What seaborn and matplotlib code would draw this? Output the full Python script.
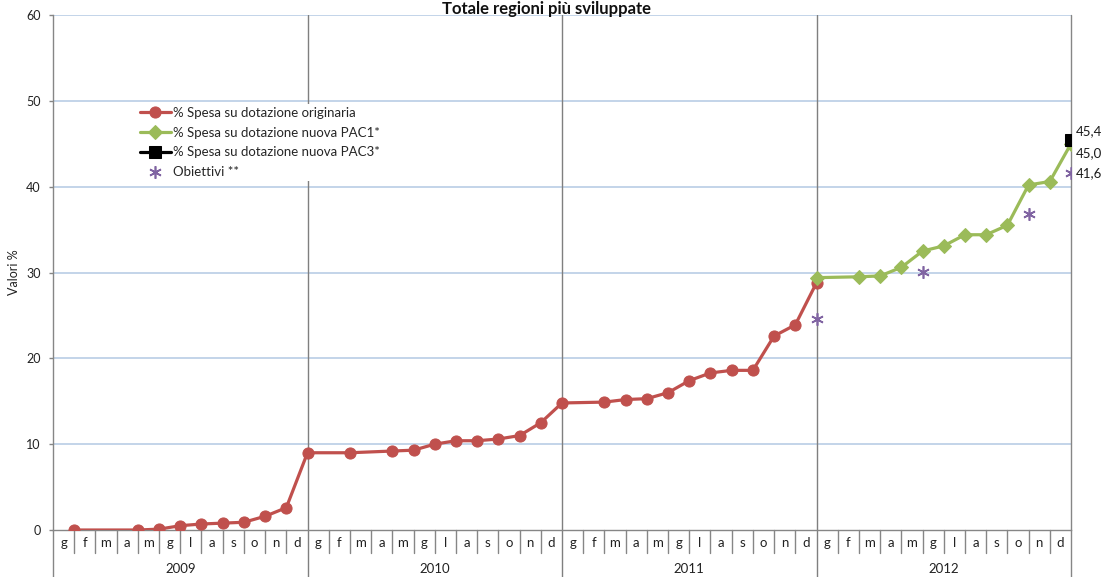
import numpy as np
import pandas as pd
import seaborn as sns
import matplotlib.pyplot as plt
from matplotlib.lines import Line2D

# ---------------- data ----------------
years = ["2009", "2010", "2011", "2012"]
months = ["g", "f", "m", "a", "m", "g", "l", "a", "s", "o", "n", "d"]

spesa_originaria = [0.0, None, None, 0.0, 0.1, 0.5, 0.7, 0.8, 0.9, 1.6, 2.6, 9.0,
                    None, 9.0, None, 9.2, 9.3, 10.0, 10.4, 10.4, 10.6, 11.0, 12.5, 14.8,
                    None, 14.9, 15.2, 15.3, 16.0, 17.4, 18.3, 18.6, 18.6, 22.6, 23.9, 28.8,
                    None, None, None, None, None, None, None, None, None, None, None, None]
spesa_pac1 = [None] * 35 + [29.4,
              None, 29.5, 29.6, 30.6, 32.5, 33.1, 34.4, 34.4, 35.5, 40.2, 40.6, 45.0]
spesa_pac3 = [None] * 47 + [45.4]
obiettivi = [None] * 35 + [24.6,
             None, None, None, None, 30.1, None, None, None, None, 36.8, None, 41.6]

labels_pts = [("45,4", 45.4, 9), ("45,0", 45.0, -9), ("41,6", 41.6, 0)]

df = pd.DataFrame({
    "pos": np.arange(1, 49),
    "orig": pd.array(spesa_originaria, dtype="Float64"),
    "pac1": pd.array(spesa_pac1, dtype="Float64"),
    "pac3": pd.array(spesa_pac3, dtype="Float64"),
    "obj": pd.array(obiettivi, dtype="Float64"),
}).astype({"orig": float, "pac1": float, "pac3": float, "obj": float})

# ---------------- style ----------------
sns.set_theme(style="white")
plt.rcParams["font.family"] = ["Lato", "DejaVu Sans"]

W, H = 1104, 577
fig = plt.figure(figsize=(W / 100, H / 100), dpi=100)
ax = fig.add_axes([53 / W, 47 / H, 1018 / W, 515 / H])

RED = "#C0504D"
GREEN = "#9BBB59"
PURPLE = "#8064A2"
GRID = "#B9CDE5"
AXC = "#868686"

for v in range(10, 61, 10):
    ax.axhline(v, color=GRID, lw=1.2, zorder=0)
for k in (12, 24, 36):
    ax.axvline(k, color="#7F7F7F", lw=1, zorder=1)

sns.lineplot(data=df.dropna(subset=["orig"]), x="pos", y="orig", ax=ax,
             color=RED, lw=2.3, marker="o", markersize=8, markeredgecolor=RED,
             label="% Spesa su dotazione originaria", zorder=3)
sns.lineplot(data=df.dropna(subset=["pac1"]), x="pos", y="pac1", ax=ax,
             color=GREEN, lw=2.3, marker="D", markersize=7, markeredgecolor=GREEN,
             label="% Spesa su dotazione nuova PAC1*", zorder=4)
sns.lineplot(data=df.dropna(subset=["pac3"]), x="pos", y="pac3", ax=ax,
             color="black", lw=2.3, marker="s", markersize=9, markeredgecolor="black",
             label="% Spesa su dotazione nuova PAC3*", zorder=5)
sns.lineplot(data=df.dropna(subset=["obj"]), x="pos", y="obj", ax=ax,
             color=PURPLE, linestyle="none", marker=(6, 2, 0), markersize=9,
             markeredgewidth=1.2, markeredgecolor=PURPLE,
             label="Obiettivi **", zorder=5)

for txt, val, dy in labels_pts:
    ax.annotate(txt, (48, val), xytext=(5, dy), textcoords="offset pixels",
                ha="left", va="center", fontsize=9.5, color="#1a1a1a",
                annotation_clip=False)

ax.set_xlim(0, 48)
ax.set_ylim(0, 60)
ax.set_yticks(range(0, 61, 10))
ax.set_xticks([])
ax.set_xlabel("")
ax.set_ylabel("")
ax.tick_params(axis="y", left=True, length=3, width=1, color=AXC, pad=6,
               labelsize=9, labelcolor="#222222")
for s in ("top", "right"):
    ax.spines[s].set_visible(False)
for s in ("left", "bottom"):
    ax.spines[s].set_color(AXC)
    ax.spines[s].set_linewidth(1)

trans = ax.get_xaxis_transform()
for k in range(0, 49):
    if k % 12 == 0:
        y1 = -47 / 515
        col = "#7F7F7F" if 0 < k < 48 else AXC
    else:
        y1 = -23 / 515
        col = AXC
    ax.add_line(Line2D([k, k], [0, y1], transform=trans, color=col, lw=1,
                       clip_on=False))
ax.add_line(Line2D([48, 48], [0, 1], transform=trans, color=AXC, lw=1,
                   clip_on=False, zorder=2))

for yi, yr in enumerate(years):
    for mi, m in enumerate(months):
        ax.text(yi * 12 + mi + 0.5, -13 / 515, m, transform=trans,
                ha="center", va="center", fontsize=9.5, color="#222222")
    ax.text(yi * 12 + 6, -39 / 515, yr, transform=trans, ha="center",
            va="center", fontsize=9.5, color="#222222")

fig.text(14 / W, 1 - 272 / H, "Valori %", rotation=90, ha="center",
         va="center", fontsize=9, color="#222222")
fig.text(546 / W, 1 - 1 / H, "Totale regioni più sviluppate", ha="center",
         va="top", fontsize=12, fontweight="bold", color="#111111")

handles, labs = ax.get_legend_handles_labels()
leg = ax.legend(handles, labs, loc="upper left",
                bbox_to_anchor=((137 - 53) / 1018, (530 - 104) / 515),
                frameon=True, fontsize=9.5, handlelength=2.4, handletextpad=0.15,
                labelspacing=0.6, borderpad=0.2, borderaxespad=0)
leg.get_frame().set_facecolor("white")
leg.get_frame().set_linewidth(0)
leg.get_frame().set_alpha(1)
leg.set_zorder(10)

fig.savefig("out.png", dpi=100)
